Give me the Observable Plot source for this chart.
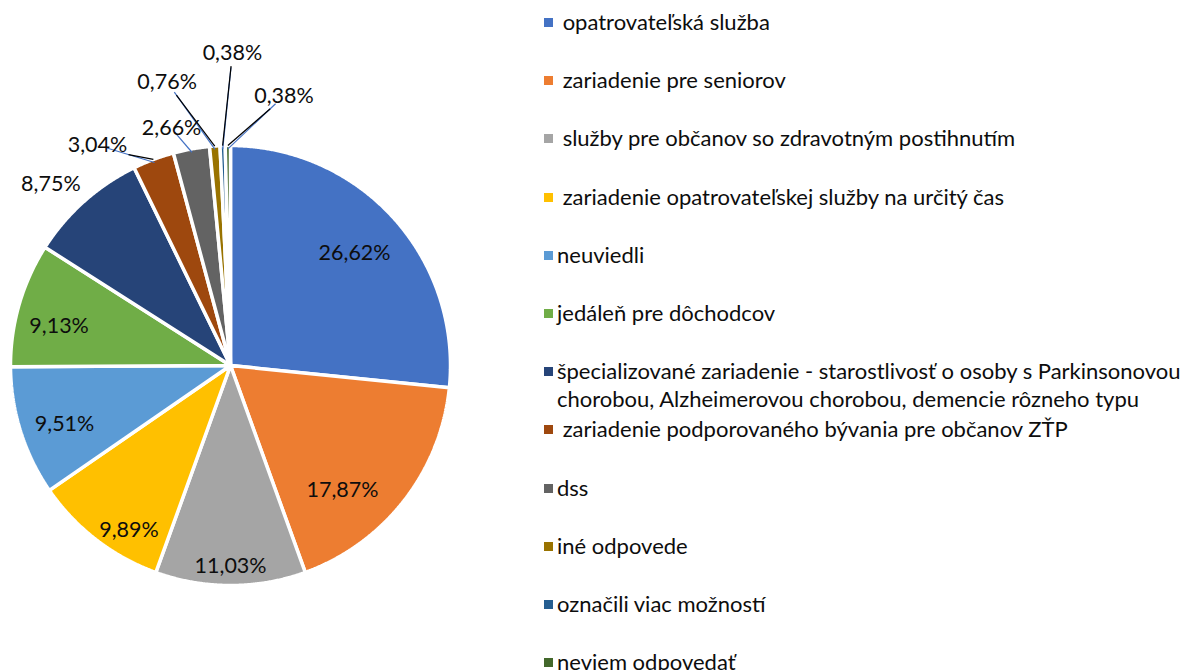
<!DOCTYPE html>
<html>
<head>
<meta charset="utf-8">
<script src="https://cdn.jsdelivr.net/npm/d3@7"></script>
<script src="https://cdn.jsdelivr.net/npm/@observablehq/plot@0.6"></script>
<style>
  html, body { margin: 0; padding: 0; background: #fff; }
  #wrap { position: relative; width: 1194px; height: 670px; overflow: hidden; font-family: Lato, "Open Sans", sans-serif; }
  #chart { position: absolute; left: 0; top: 0; }
  .item { position: absolute; left: 544px; width: 700px; font-size: 22px; line-height: 28px; color: #0d0d0d; white-space: pre-wrap; }
  .sw { position: absolute; left: 0; top: 10px; width: 9px; height: 9px; }
  .tx { display: block; margin-left: 13px; width: 680px; }
</style>
</head>
<body>
<div id="wrap"><div id="chart"></div><div id="legend"></div></div>
<script>
// ---- data ----
const categories = [
  " opatrovateľská služba",
  " zariadenie pre seniorov",
  " služby pre občanov so zdravotným postihnutím",
  " zariadenie opatrovateľskej služby na určitý čas",
  "neuviedli",
  "jedáleň pre dôchodcov",
  "špecializované zariadenie - starostlivosť o osoby s Parkinsonovou chorobou, Alzheimerovou chorobou, demencie rôzneho typu",
  " zariadenie podporovaného bývania pre občanov ZŤP",
  "dss",
  "iné odpovede",
  "označili viac možností",
  "neviem odpovedať"
];
const values = [26.62, 17.87, 11.03, 9.89, 9.51, 9.13, 8.75, 3.04, 2.66, 0.76, 0.38, 0.38];
const colors = ["#4472C4", "#ED7D31", "#A5A5A5", "#FFC000", "#5B9BD5", "#70AD47",
                "#264478", "#9E480E", "#636363", "#997300", "#255E91", "#43682B"];

// ---- label layout (angle nudge in degrees, radius as fraction of pie radius) ----
const labelNudge = [0, 10, 0, -6, -2, -3, -3, -10.6, -3.7, -8.5, 2.4, 11.9];
const labelRadius = [0.76, 0.76, 0.91, 0.88, 0.80, 0.80, 1.16, 1.17, 1.11, 1.32, 1.42, 1.25];
const blueLeader = [false, false, false, false, false, false, false, true, true, true, true, true];
const blackLeader = [false, false, false, false, false, false, false, true, false, true, true, true];

// ---- geometry ----
const W = 540, H = 670, CX = 230, CY = 365, R = 220;
const arcs = d3.pie().sort(null).value(d => d)(values);
const toXY = (a, r) => [r * Math.sin(a), r * Math.cos(a)];

const slicePts = [];
arcs.forEach((a, i) => {
  const name = categories[i];
  slicePts.push({x: 0, y: 0, name});
  const n = Math.max(2, Math.ceil((a.endAngle - a.startAngle) / 0.005));
  for (let k = 0; k <= n; k++) {
    const t = a.startAngle + (a.endAngle - a.startAngle) * k / n;
    const [x, y] = toXY(t, 1);
    slicePts.push({x, y, name});
  }
  slicePts.push({x: 0, y: 0, name});
});

const fmt = v => d3.format(".2f")(v).replace(".", ",") + "%";
const labelData = arcs.map((a, i) => {
  const mid = (a.startAngle + a.endAngle) / 2 + labelNudge[i] * Math.PI / 180;
  const [x, y] = toXY(mid, labelRadius[i]);
  return {x, y, text: fmt(values[i]), i, mid: (a.startAngle + a.endAngle) / 2};
});

const blueLines = [], blackLines = [];
labelData.forEach(d => {
  const [ex, ey] = toXY(d.mid, 0.985);
  const dx = ex - d.x, dy = ey - d.y;
  if (blueLeader[d.i]) {
    const t = 0.15;
    blueLines.push({x1: d.x + t * dx, y1: d.y + t * dy, x2: ex, y2: ey});
  }
  if (blackLeader[d.i]) {
    const hw = 31 / R, hh = 13 / R;
    const t = Math.min(Math.abs(dx) > 1e-9 ? hw / Math.abs(dx) : 1, Math.abs(dy) > 1e-9 ? hh / Math.abs(dy) : 1);
    const [bx, by] = toXY(d.mid, 1.0);
    blackLines.push({x1: d.x + t * dx, y1: d.y + t * dy, x2: bx, y2: by});
  }
});

const chart = Plot.plot({
  width: W, height: H,
  margin: 0,
  x: {type: "linear", domain: [-CX / R, (W - CX) / R], range: [0, W], axis: null},
  y: {type: "linear", domain: [-(H - CY) / R, CY / R], range: [H, 0], axis: null},
  color: {type: "ordinal", domain: categories, range: colors},
  style: {fontFamily: "Lato, 'Open Sans', sans-serif", background: "white"},
  marks: [
    Plot.line(slicePts, {x: "x", y: "y", z: "name", fill: "name", stroke: "white", strokeWidth: 3.5, strokeLinejoin: "miter"}),
    Plot.link(blueLines, {x1: "x1", y1: "y1", x2: "x2", y2: "y2", stroke: "#4472C4", strokeWidth: 1.2}),
    Plot.link(blackLines, {x1: "x1", y1: "y1", x2: "x2", y2: "y2", stroke: "#000", strokeWidth: 1.2}),
    Plot.text(labelData, {x: "x", y: "y", text: "text", fontSize: 21.5, fill: "#0d0d0d"})
  ]
});
document.getElementById("chart").appendChild(chart);

// ---- legend ----
const legend = document.getElementById("legend");
categories.forEach((c, i) => {
  const it = document.createElement("div");
  it.className = "item";
  it.style.top = (22 + i * 58.2 - 14) + "px";
  const sw = document.createElement("span");
  sw.className = "sw";
  sw.style.background = colors[i];
  const tx = document.createElement("span");
  tx.className = "tx";
  tx.textContent = c;
  it.appendChild(sw);
  it.appendChild(tx);
  legend.appendChild(it);
});
</script>
</body>
</html>
